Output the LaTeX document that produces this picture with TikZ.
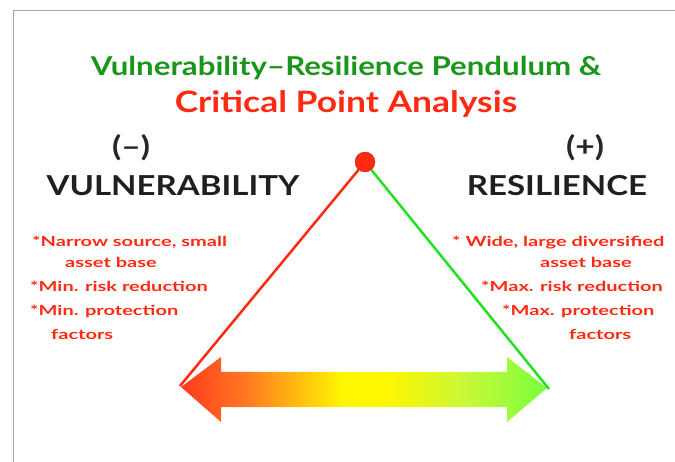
\documentclass[tikz,border=0pt]{standalone}
\usepackage{fontspec}
\setmainfont{Lato}
\newfontfamily\widefont[FakeStretch=1.2]{Lato}
\newfontfamily\bulletfont[FakeStretch=1.45]{Lato}
\usepackage{tikz}

\definecolor{titlegreen}{HTML}{1A961A}
\definecolor{hotred}{HTML}{FF2A12}
\definecolor{limegreen}{HTML}{22E022}
\definecolor{arrowred}{HTML}{FF3A1E}
\definecolor{arroworange}{HTML}{FF7A22}
\definecolor{arrowyellow}{HTML}{FFF600}
\definecolor{arrowlime}{HTML}{C8F838}
\definecolor{arrowgreen}{HTML}{78FF3C}
\pgfdeclarehorizontalshading{pendulum}{100bp}{color(0bp)=(arrowred); color(25bp)=(arrowred);
	color(34bp)=(arroworange); color(47bp)=(arrowyellow); color(53bp)=(arrowyellow);
	color(64bp)=(arrowlime); color(75bp)=(arrowgreen); color(100bp)=(arrowgreen)}

\begin{document}
\begin{tikzpicture}[x=1pt,y=-1pt,
	heading/.style={font=\widefont\fontsize{26}{26}\selectfont\bfseries, inner sep=0pt, anchor=base},
	side/.style={font=\widefont\fontsize{27.5}{27.5}\selectfont\bfseries, text=black!88, inner sep=0pt, anchor=base},
	sign/.style={font=\widefont\fontsize{28}{28}\selectfont\bfseries, text=black!85, inner sep=0pt, anchor=base},
	point/.style={font=\bulletfont\fontsize{13.8}{13.8}\selectfont\bfseries, text=hotred, inner sep=0pt, anchor=base west}]
	\useasboundingbox (0,0) rectangle (675,462);
	\draw [gray!70, line width=1.2] (675,10.5) -- (13.5,10.5) -- (13.5,462);

	% titles
	\node [heading, text=titlegreen] (title) at (346,76) {Vulnerability–Resilience Pendulum \&};
	\node [heading, text=hotred, font=\widefont\fontsize{29.5}{29.5}\selectfont\bfseries] (subtitle) at (346,113) {Critical Point Analysis};

	% the two sides
	\node [sign] (minus) at (131,157) {(–)};
	\node [sign] (plus) at (585,157) {(+)};
	\node [side] (vuln) at (173,196) {VULNERABILITY};
	\node [side] (resil) at (557,196) {RESILIENCE};

	\node [point] (v1) at (32,247) {*Narrow source, small};
	\node [point] (v2) at (65,268) {asset base};
	\node [point] (v3) at (30,292) {*Min. risk reduction};
	\node [point] (v4) at (30,316) {*Min. protection};
	\node [point] (v5) at (51,340) {factors};

	\node [point] (r1) at (452,247) {* Wide, large diversified};
	\node [point] (r2) at (540,268) {asset base};
	\node [point] (r3) at (481,292) {*Max. risk reduction};
	\node [point] (r4) at (502,316) {*Max. protection};
	\node [point] (r5) at (569,340) {factors};

	% pendulum
	\shade [shading=pendulum]
		(181,387) -- (221,357) -- (221,372) -- (507,372) -- (507,357) --
		(547,388) -- (507,422) -- (507,407) -- (221,407) -- (221,422) -- cycle;
	\coordinate (vend) at (180,386);
	\coordinate (rend) at (549,389);
	\node [circle, fill=hotred, draw=hotred!80!black, line width=0.4, minimum size=20, inner sep=0pt] (pivot) at (365,162) {};
	\draw [hotred, line width=2.5] (pivot) -- (vend);
	\draw [limegreen, line width=2.5] (pivot) -- (rend);
\end{tikzpicture}
\end{document}
